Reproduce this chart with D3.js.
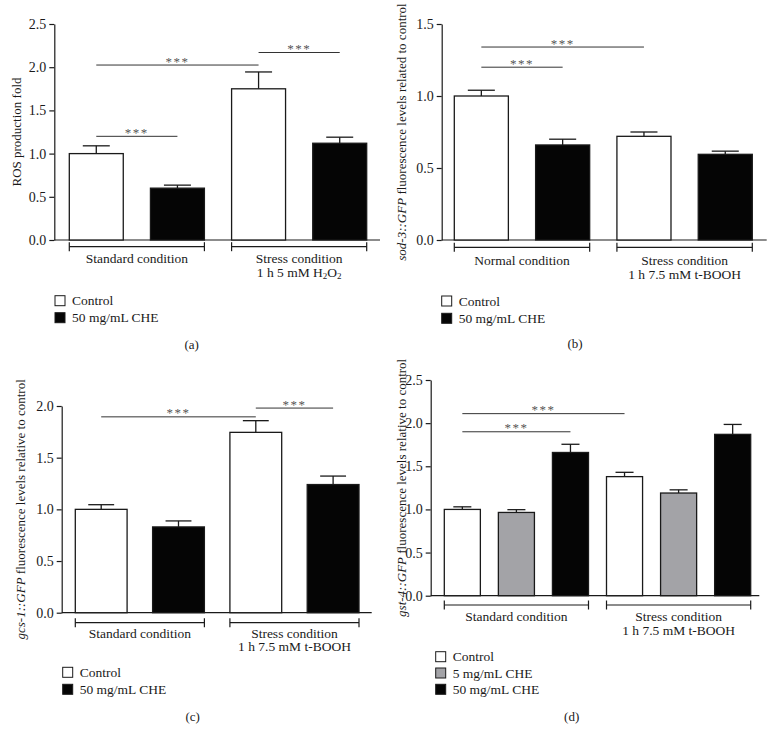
<!DOCTYPE html>
<html>
<head>
<meta charset="utf-8">
<script src="https://cdn.jsdelivr.net/npm/d3@7"></script>
<style>
  body { margin: 0; background: #fff; }
  svg { display: block; }
  text { font-family: "Liberation Serif", "Times New Roman", serif; fill: #1a1a1a; }
</style>
</head>
<body>
<svg id="chart" width="774" height="730"></svg>
<script>
// series names + fills
const seriesTwo = ["Control", "50 mg/mL CHE"];
const seriesThree = ["Control", "5 mg/mL CHE", "50 mg/mL CHE"];
const fillsTwo = ["#ffffff", "#050505"];
const fillsThree = ["#ffffff", "#a3a3a7", "#050505"];

// group labels (lines, "_x" = subscript)
const groupsA = [["Standard condition"], ["Stress condition", "1 h 5 mM H_2O_2"]];
const groupsB = [["Normal condition"], ["Stress condition", "1 h 7.5 mM t-BOOH"]];
const groupsC = [["Standard condition"], ["Stress condition", "1 h 7.5 mM t-BOOH"]];
const groupsD = [["Standard condition"], ["Stress condition", "1 h 7.5 mM t-BOOH"]];

// means per group x series
const meansA = [[1.00, 0.60], [1.75, 1.12]];
const meansB = [[1.00, 0.66], [0.72, 0.595]];
const meansC = [[1.00, 0.83], [1.745, 1.24]];
const meansD = [[1.00, 0.965, 1.66], [1.38, 1.19, 1.87]];

// error (upper only), group x series
const errA = [[0.09, 0.035], [0.195, 0.07]];
const errB = [[0.04, 0.04], [0.03, 0.022]];
const errC = [[0.045, 0.058], [0.113, 0.082]];
const errD = [[0.03, 0.032, 0.095], [0.05, 0.037, 0.115]];

// y tick values
const ticksA = [0, 0.5, 1.0, 1.5, 2.0, 2.5];
const ticksB = [0, 0.5, 1.0, 1.5];
const ticksC = [0, 0.5, 1.0, 1.5, 2.0];
const ticksD = [0, 0.5, 1.0, 1.5, 2.0, 2.5];

// significance bars: [group, series] -> [group, series] at value y
const sigA = [
  { from: [0, 0], to: [1, 0], y: 2.025 },
  { from: [1, 0], to: [1, 1], y: 2.17 },
  { from: [0, 0], to: [0, 1], y: 1.20 }
];
const sigB = [
  { from: [0, 0], to: [1, 0], y: 1.34 },
  { from: [0, 0], to: [0, 1], y: 1.20 }
];
const sigC = [
  { from: [0, 0], to: [1, 0], y: 1.895 },
  { from: [1, 0], to: [1, 1], y: 1.98 }
];
const sigD = [
  { from: [0, 0], to: [1, 0], y: 2.11 },
  { from: [0, 0], to: [0, 2], y: 1.90 }
];

const yTitleA = [["ROS production fold", false]];
const yTitleB = [["sod-3::GFP", true], [" fluorescence levels related to control", false]];
const yTitleC = [["gcs-1::GFP", true], [" fluorescence levels relative to control", false]];
const yTitleD = [["gst-4::GFP", true], [" fluorescence levels relative to control", false]];

const svg = d3.select("#chart");

function addRich(sel, str) {
  // split on _x for subscripts
  const parts = str.split(/(_\d)/);
  parts.forEach(p => {
    if (!p) return;
    if (p[0] === "_") {
      sel.append("tspan").attr("baseline-shift", "-25%").style("font-size", "9px").text(p.slice(1));
    } else {
      sel.append("tspan").text(p);
    }
  });
}

function drawPanel(cfg) {
  const g = svg.append("g");
  const nS = cfg.series.length;

  const y = d3.scaleLinear()
    .domain([0, d3.max(cfg.ticks)])
    .range([cfg.y0, cfg.yTop]);

  const ids = [];
  cfg.means.forEach((row, gi) => row.forEach((v, si) => ids.push(gi + "-" + si)));
  const x = d3.scaleBand()
    .domain(ids)
    .range(cfg.barRange)
    .paddingInner(cfg.pad)
    .paddingOuter(0);
  const bw = x.bandwidth();

  const bars = [];
  cfg.means.forEach((row, gi) => row.forEach((v, si) => {
    bars.push({ gi, si, v, e: cfg.err[gi][si], id: gi + "-" + si });
  }));

  // x axis line
  g.append("line")
    .attr("x1", cfg.axisX).attr("x2", cfg.axisEnd)
    .attr("y1", cfg.y0).attr("y2", cfg.y0)
    .attr("stroke", "#1a1a1a").attr("stroke-width", 1.2);

  // error bars
  bars.forEach(b => {
    const cx = x(b.id) + bw / 2;
    g.append("line")
      .attr("x1", cx).attr("x2", cx)
      .attr("y1", y(b.v)).attr("y2", y(b.v + b.e))
      .attr("stroke", "#1a1a1a").attr("stroke-width", 1.3);
    g.append("line")
      .attr("x1", cx - bw / 4).attr("x2", cx + bw / 4)
      .attr("y1", y(b.v + b.e)).attr("y2", y(b.v + b.e))
      .attr("stroke", "#1a1a1a").attr("stroke-width", 1.3);
  });

  // bars
  g.selectAll("rect.bar")
    .data(bars)
    .enter()
    .append("rect")
    .attr("class", "bar")
    .attr("x", d => x(d.id))
    .attr("width", bw)
    .attr("y", d => y(d.v))
    .attr("height", d => cfg.y0 - y(d.v))
    .attr("fill", d => cfg.fills[d.si])
    .attr("stroke", "#1a1a1a")
    .attr("stroke-width", 1.3);

  // y axis
  const ax = g.append("g")
    .attr("transform", "translate(" + cfg.axisX + ",0)")
    .call(d3.axisLeft(y).tickValues(cfg.ticks).tickFormat(d3.format(".1f")).tickSize(5).tickSizeOuter(0).tickPadding(3));
  ax.select(".domain").attr("stroke", "#1a1a1a").attr("stroke-width", 1.2);
  ax.selectAll(".tick line").attr("stroke", "#1a1a1a").attr("stroke-width", 1.2);
  ax.selectAll(".tick text")
    .style("font-family", "'Liberation Serif', 'Times New Roman', serif")
    .style("font-size", "14px")
    .attr("fill", "#1a1a1a");

  // y title
  const yt = g.append("text")
    .attr("transform", "translate(" + cfg.titleX + "," + ((cfg.y0 + cfg.yTop) / 2) + ") rotate(-90)")
    .attr("text-anchor", "middle")
    .attr("dy", "0.35em")
    .style("font-size", "13px");
  cfg.yTitle.forEach(p => {
    yt.append("tspan").style("font-style", p[1] ? "italic" : "normal").text(p[0]);
  });

  // group brackets + labels
  cfg.groups.forEach((lines, gi) => {
    const x1 = x(gi + "-0");
    const x2 = x(gi + "-" + (nS - 1)) + bw;
    g.append("line")
      .attr("x1", x1).attr("x2", x2)
      .attr("y1", cfg.bracketY).attr("y2", cfg.bracketY)
      .attr("stroke", "#1a1a1a").attr("stroke-width", 1.2);
    [x1, x2].forEach(xx => {
      g.append("line")
        .attr("x1", xx).attr("x2", xx)
        .attr("y1", cfg.bracketY - 4.5).attr("y2", cfg.bracketY + 4.5)
        .attr("stroke", "#1a1a1a").attr("stroke-width", 1.2);
    });
    lines.forEach((ln, li) => {
      const t = g.append("text")
        .attr("x", (x1 + x2) / 2)
        .attr("y", cfg.labelY + li * 13.5)
        .attr("dy", "0.35em")
        .attr("text-anchor", "middle")
        .style("font-size", "13.5px");
      addRich(t, ln);
    });
  });

  // significance
  cfg.sig.forEach(s => {
    const xa = x(s.from[0] + "-" + s.from[1]) + bw / 2;
    const xb = x(s.to[0] + "-" + s.to[1]) + bw / 2;
    const yy = y(s.y);
    g.append("line")
      .attr("x1", xa).attr("x2", xb)
      .attr("y1", yy).attr("y2", yy)
      .attr("stroke", "#333").attr("stroke-width", 1);
    g.append("text")
      .attr("x", (xa + xb) / 2)
      .attr("y", yy + 0.5)
      .attr("text-anchor", "middle")
      .style("fill", "#555")
      .style("font-size", "13px")
      .style("letter-spacing", "1.5px")
      .text("***");
  });

  // legend
  cfg.series.forEach((name, i) => {
    const ly = cfg.legendY + i * cfg.legendStep;
    g.append("rect")
      .attr("x", cfg.legendX).attr("y", ly - 5)
      .attr("width", 10).attr("height", 10)
      .attr("fill", cfg.fills[i])
      .attr("stroke", "#1a1a1a").attr("stroke-width", 1);
    g.append("text")
      .attr("x", cfg.legendX + 17).attr("y", ly)
      .attr("dy", "0.35em")
      .style("font-size", "13.5px")
      .text(name);
  });

  // caption
  g.append("text")
    .attr("x", cfg.capX).attr("y", cfg.capY)
    .attr("dy", "0.35em")
    .attr("text-anchor", "middle")
    .style("font-size", "13px")
    .text(cfg.caption);
}

drawPanel({
  series: seriesTwo, fills: fillsTwo, groups: groupsA, means: meansA, err: errA, ticks: ticksA, sig: sigA, yTitle: yTitleA,
  axisX: 54.3, axisEnd: 380, y0: 240, yTop: 24, barRange: [69.3, 366.7], pad: 0.335,
  titleX: 16, bracketY: 246.7, labelY: 258.5, legendX: 55, legendY: 300.7, legendStep: 17,
  capX: 191.7, capY: 344, caption: "(a)"
});
drawPanel({
  series: seriesTwo, fills: fillsTwo, groups: groupsB, means: meansB, err: errB, ticks: ticksB, sig: sigB, yTitle: yTitleB,
  axisX: 441.7, axisEnd: 766.7, y0: 240, yTop: 24, barRange: [454.3, 752.3], pad: 0.335,
  titleX: 401, bracketY: 247.3, labelY: 260.7, legendX: 441.7, legendY: 301, legendStep: 17.3,
  capX: 575, capY: 343.3, caption: "(b)"
});
drawPanel({
  series: seriesTwo, fills: fillsTwo, groups: groupsC, means: meansC, err: errC, ticks: ticksC, sig: sigC, yTitle: yTitleC,
  axisX: 61.7, axisEnd: 371.7, y0: 612.7, yTop: 406, barRange: [75.3, 359], pad: 0.33,
  titleX: 20, bracketY: 622.7, labelY: 633, legendX: 62.7, legendY: 672.3, legendStep: 17,
  capX: 192.7, capY: 716, caption: "(c)"
});
drawPanel({
  series: seriesThree, fills: fillsThree, groups: groupsD, means: meansD, err: errD, ticks: ticksD, sig: sigD, yTitle: yTitleD,
  axisX: 430.7, axisEnd: 759.3, y0: 595.7, yTop: 380, barRange: [444.3, 750.7], pad: 0.333,
  titleX: 401, bracketY: 605, labelY: 616.3, legendX: 435.7, legendY: 656.7, legendStep: 16.3,
  capX: 571.7, capY: 716.7, caption: "(d)"
});
</script>
</body>
</html>
